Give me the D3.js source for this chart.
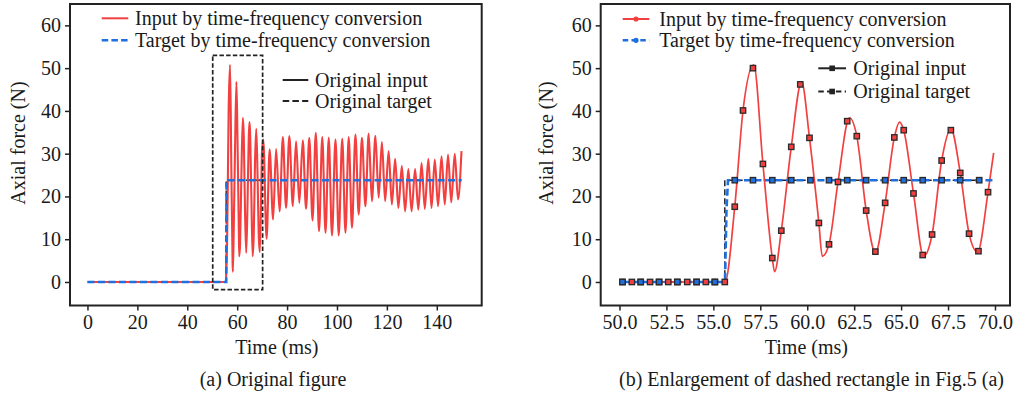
<!DOCTYPE html>
<html><head><meta charset="utf-8">
<script src="https://cdn.jsdelivr.net/npm/d3@7"></script>
<style>
body{margin:0;background:#fff;}
svg text{font-family:"Liberation Serif","Times New Roman",serif;fill:#1a1a1a;}
</style>
</head><body>
<svg id="c" width="1013" height="401"></svg>
<script>
// ---------- data ----------
const tfInputTime = [0, 50.15, 55.62, 56.14, 56.58, 57.15, 57.64, 58.14, 58.26, 58.62,
  59.15, 59.7, 60.12, 60.62, 60.8, 61.16, 61.64, 62.25, 62.64, 63.14,
  63.63, 64.15, 64.64, 64.92, 65.14, 65.66, 66.2, 66.65, 67.16, 67.65,
  68.15, 68.62, 69.07, 69.63, 69.93,
  70.45, 71.8, 73.0, 74.4, 75.6, 77.0, 78.3, 79.6, 80.9, 82.3,
  83.6, 84.9, 86.3, 87.6, 88.9, 90.2, 91.5, 92.8, 94.1, 95.4,
  96.7, 98.0, 99.4, 100.7, 102.1, 103.4, 104.7, 106.0, 107.4, 108.7,
  110.0, 111.4, 112.7, 114.0, 115.4, 116.7, 118.0, 119.3, 120.7, 122.0,
  123.3, 124.6, 126.0, 127.3, 128.6, 129.9, 131.3, 132.6, 133.9, 135.2,
  136.6, 137.9, 139.2, 140.5, 141.9, 143.2, 144.5, 145.8, 147.2, 148.5,
  149.9];
const tfInputForce = [0, 0, 0, 17.6, 40.1, 50.8, 27.6, 5.6, 2.4, 12.0,
  31.6, 46.8, 33.7, 13.8, 6.0, 8.8, 23.4, 38.4, 34.1, 16.7,
  6.8, 18.5, 33.8, 37.4, 35.5, 20.7, 6.0, 11.1, 28.4, 35.8,
  25.5, 11.3, 7.0, 21.0, 30.2,
  33.3, 10.1, 31.0, 14.6, 31.1, 16.5, 33.9, 17.3, 34.1, 17.7,
  32.9, 18.5, 33.1, 17.1, 33.7, 14.4, 34.9, 11.9, 33.9, 11.5,
  33.7, 10.9, 33.3, 10.9, 33.5, 11.5, 33.9, 12.7, 34.5, 15.8,
  33.7, 17.7, 34.7, 18.9, 34.2, 19.7, 32.7, 18.9, 30.6, 18.1,
  28.8, 17.3, 27.1, 16.5, 26.4, 16.5, 26.4, 16.9, 27.8, 17.1,
  28.8, 17.3, 28.6, 17.7, 29.4, 18.1, 29.8, 18.6, 30.0, 19.3,
  30.6];

const tfTargetTime  = [0, 50.15, 55.62, 55.7, 55.78, 69.93, 150];
const tfTargetForce = [0, 0, 0, 17, 23.8, 23.8, 23.8];

const origInputTime = [50.16, 50.66, 51.13, 51.63, 52.11, 52.60, 53.08, 53.61, 54.11, 54.60,
  55.08, 55.61, 56.14, 56.58, 57.11, 57.64, 58.14, 58.62, 59.15, 59.63,
  60.12, 60.62, 61.16, 61.64, 62.13, 62.64, 63.14, 63.63, 64.15, 64.64,
  65.14, 65.66, 66.15, 66.65, 67.16, 67.65, 68.15, 68.62, 69.12, 69.63];
const origInputForce = [0, 0, 0, 0, 0, 0, 0, 0, 0, 0,
  0, 0, 17.6, 40.1, 50.0, 27.6, 5.6, 12.0, 31.6, 46.2,
  33.7, 13.8, 8.8, 23.4, 37.6, 34.1, 16.7, 7.1, 18.5, 33.8,
  35.5, 20.7, 6.3, 11.1, 28.4, 35.5, 25.5, 11.3, 7.2, 21.0];

const origTargetTime = [50.16, 51.13, 52.11, 53.08, 54.11, 55.08, 56.14, 57.11, 58.14, 59.15,
  60.17, 61.16, 62.13, 63.14, 64.15, 65.14, 66.15, 67.16, 68.15, 69.16];
const origTargetForce = [0, 0, 0, 0, 0, 0, 23.8, 23.8, 23.8, 23.8,
  23.8, 23.8, 23.8, 23.8, 23.8, 23.8, 23.8, 23.8, 23.8, 23.8];

const zoomBoxTime = [50.2, 70.2];
const zoomBoxForce = [-1.8, 53];

const xTicksA = [0, 20, 40, 60, 80, 100, 120, 140];
const xTicksB = [50, 52.5, 55, 57.5, 60, 62.5, 65, 67.5, 70];
const yTicks = [0, 10, 20, 30, 40, 50, 60];

const seriesLabels = ["Input by time-frequency conversion", "Target by time-frequency conversion",
                      "Original input", "Original target"];
const xTitle = "Time (ms)";
const yTitle = "Axial force (N)";
const captions = ["(a) Original figure", "(b) Enlargement of dashed rectangle in Fig.5 (a)"];

// ---------- drawing ----------
const RED = "#f24040", BLUE = "#1f6fde", INK = "#222";
const FS = 20;
const svg = d3.select("#c");
const zip = (ts, vs) => ts.map((t, i) => [t, vs[i]]);

const panels = [
  {id: "a", x0: 70, x1: 481.7, dom: [-7, 158], ticks: xTicksA, fmt: d3.format("d"), markers: false,
   capX: 273, ytX: 24.5},
  {id: "b", x0: 600.7, x1: 1010, dom: [49, 70.8], ticks: xTicksB, fmt: d3.format(".1f"), markers: true,
   capX: 811.5, ytX: 553}
];
const yTop = 4, yBot = 305.5;

panels.forEach((p, pi) => {
  const x = d3.scaleLinear().domain(p.dom).range([p.x0, p.x1]);
  const y = d3.scaleLinear().domain([-5.5, 65]).range([yBot, yTop]);
  const g = svg.append("g");

  svg.append("clipPath").attr("id", "clip" + p.id)
    .append("rect").attr("x", p.x0).attr("y", yTop).attr("width", p.x1 - p.x0).attr("height", yBot - yTop);
  const plot = g.append("g").attr("clip-path", `url(#clip${p.id})`);

  let tfIn = zip(tfInputTime, tfInputForce);
  let tfTg = zip(tfTargetTime, tfTargetForce);
  if (p.markers) {
    tfIn = tfIn.filter(d => d[0] >= 50.15 && d[0] <= 69.93);
    tfTg = tfTg.filter(d => d[0] >= 50.15 && d[0] <= 69.93);
  } else {
    tfTg = tfTg.filter(d => d[0] !== 69.93);
  }
  const lineM = d3.line().x(d => x(d[0])).y(d => y(d[1])).curve(d3.curveMonotoneX);
  const lineL = d3.line().x(d => x(d[0])).y(d => y(d[1]));
  const lineS = d3.line().x(d => x(d[0])).y(d => y(d[1])).curve(d3.curveStep);

  // original target (black dashed, beneath)
  plot.append("path").datum(zip(origTargetTime, origTargetForce)).attr("d", lineS)
    .attr("fill", "none").attr("stroke", INK).attr("stroke-width", 1.5).attr("stroke-dasharray", "6,3");
  // input by TF conversion
  plot.append("path").datum(tfIn).attr("d", lineM)
    .attr("fill", "none").attr("stroke", RED).attr("stroke-width", p.markers ? 1.7 : 2.1);
  // target by TF conversion
  plot.append("path").datum(tfTg).attr("d", lineL)
    .attr("fill", "none").attr("stroke", BLUE).attr("stroke-width", 2.6).attr("stroke-dasharray", "7,3.5");

  if (p.markers) {
    plot.selectAll(".mi").data(zip(origInputTime, origInputForce)).join("rect")
      .attr("x", d => x(d[0]) - 2.7).attr("y", d => y(d[1]) - 2.7).attr("width", 5.4).attr("height", 5.4)
      .attr("fill", RED).attr("stroke", "#2a2a2a").attr("stroke-width", 1.3);
    plot.selectAll(".mt").data(zip(origTargetTime, origTargetForce)).join("rect")
      .attr("x", d => x(d[0]) - 2.7).attr("y", d => y(d[1]) - 2.7).attr("width", 5.4).attr("height", 5.4)
      .attr("fill", BLUE).attr("stroke", "#2a2a2a").attr("stroke-width", 1.3);
  } else {
    plot.append("rect")
      .attr("x", x(zoomBoxTime[0])).attr("y", y(zoomBoxForce[1]))
      .attr("width", x(zoomBoxTime[1]) - x(zoomBoxTime[0]))
      .attr("height", y(zoomBoxForce[0]) - y(zoomBoxForce[1]))
      .attr("fill", "none").attr("stroke", INK).attr("stroke-width", 1.7).attr("stroke-dasharray", "4.5,2.2");
  }

  // axes
  const ax = g.append("g").attr("transform", `translate(0,${yBot})`)
    .call(d3.axisBottom(x).tickValues(p.ticks).tickFormat(p.fmt).tickSize(5).tickPadding(4.5));
  const ay = g.append("g").attr("transform", `translate(${p.x0},0)`)
    .call(d3.axisLeft(y).tickValues(yTicks).tickFormat(d3.format("d")).tickSize(5).tickPadding(4));
  [ax, ay].forEach(a => {
    a.select(".domain").remove();
    a.selectAll("line").attr("stroke", INK).attr("stroke-width", 1.5);
    a.selectAll("text").attr("font-size", FS).attr("font-family", "Liberation Serif").attr("fill", "#1a1a1a");
  });

  // frame
  g.append("rect").attr("x", p.x0).attr("y", yTop).attr("width", p.x1 - p.x0).attr("height", yBot - yTop)
    .attr("fill", "none").attr("stroke", INK).attr("stroke-width", 2);

  // titles
  g.append("text").attr("x", (p.x0 + p.x1) / 2 + 1).attr("y", 354).attr("text-anchor", "middle")
    .attr("font-size", FS).text(xTitle);
  g.append("text").attr("transform", `translate(${p.ytX},143) rotate(-90)`).attr("text-anchor", "middle")
    .attr("font-size", FS).text(yTitle);
  g.append("text").attr("x", p.capX).attr("y", 386).attr("text-anchor", "middle")
    .attr("font-size", FS).text(p.id === "a" ? captions[0] : captions[1]);

  // legends
  const leg = p.markers
    ? [{x1: 622.7, x2: 649.3, tx: 659.3, rows: [19, 40.3], idx: [0, 1]},
       {x1: 818.3, x2: 846, tx: 853.3, rows: [68.3, 91.5], idx: [2, 3]}]
    : [{x1: 101.7, x2: 128.3, tx: 135, rows: [18.3, 40.3], idx: [0, 1]},
       {x1: 282.7, x2: 308.3, tx: 315, rows: [80, 101], idx: [2, 3]}];
  leg.forEach(L => {
    L.idx.forEach((si, k) => {
      const yy = L.rows[k];
      const col = si === 0 ? RED : si === 1 ? BLUE : INK;
      const dashed = si === 1 || si === 3;
      const lg = g.append("g");
      lg.append("line").attr("x1", L.x1).attr("x2", L.x2).attr("y1", yy).attr("y2", yy)
        .attr("stroke", col).attr("stroke-width", si === 1 ? 2.6 : 2)
        .attr("stroke-dasharray", dashed ? (p.markers ? "5.5,3.3" : "6.5,3.2") : null);
      if (p.markers) {
        const cx = (L.x1 + L.x2) / 2;
        if (si < 2) lg.append("circle").attr("cx", cx).attr("cy", yy).attr("r", 2.6).attr("fill", col);
        else lg.append("rect").attr("x", cx - 2.8).attr("y", yy - 2.8).attr("width", 5.6).attr("height", 5.6).attr("fill", INK);
      }
      lg.append("text").attr("x", L.tx).attr("y", yy + 6.7).attr("font-size", FS).text(seriesLabels[si]);
    });
  });
});
</script>
</body></html>
